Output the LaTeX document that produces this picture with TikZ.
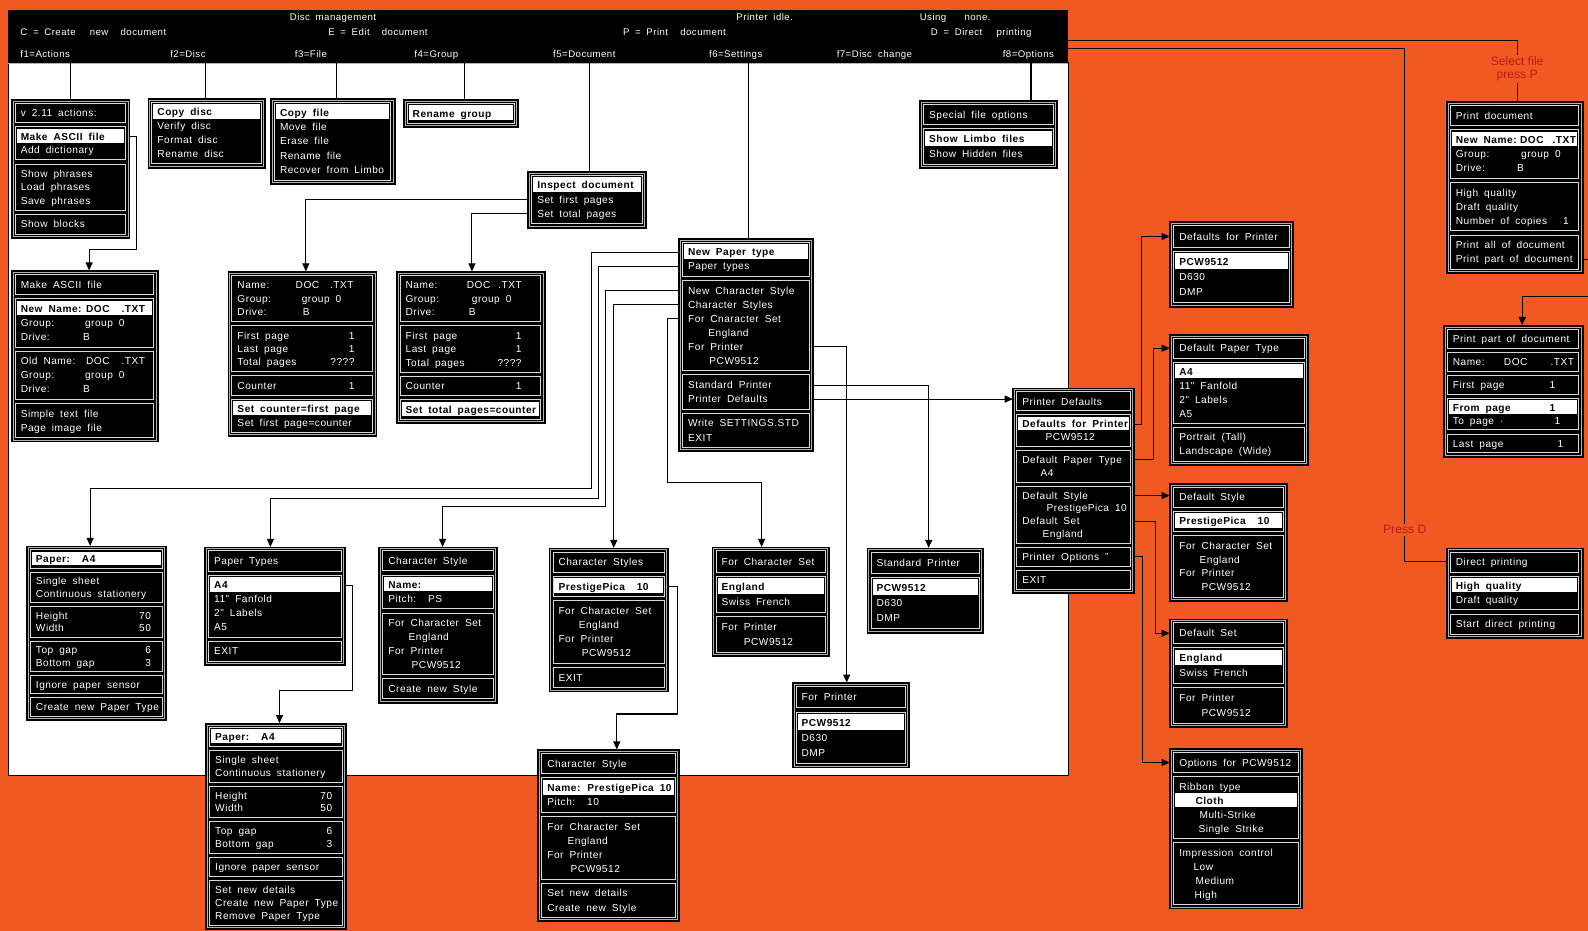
\documentclass[tikz,border=0pt]{standalone}
\usepackage{fontspec}
\setmainfont{Liberation Sans}
\newfontfamily\mfont{Liberation Sans}[LetterSpace=5,WordSpace=1.8]
\usetikzlibrary{arrows.meta}
\pgfdeclarelayer{panel}
\pgfdeclarelayer{lines}
\pgfdeclarelayer{frames}
\pgfsetlayers{panel,lines,frames,main}
\definecolor{bgorange}{RGB}{240,90,34}
\definecolor{lblred}{RGB}{185,30,25}
\definecolor{secgray}{gray}{0.85}

\newcounter{rowc}
\newif\ifhl
\def\RH{13.4}
\newcommand\mbegin[5][13.4]{%
  \gdef\RH{#1}\gdef\mname{#2}\gdef\mx{#3}\gdef\mtop{#4}\gdef\mw{#5}%
  \pgfmathsetmacro\tmp{#4+4}\xdef\cy{\tmp}%
  \setcounter{rowc}{0}}
\newcommand\msec[1]{%
  \pgfmathsetmacro\ya{\cy}%
  \pgfmathsetmacro\yb{\cy+6+\RH*#1}%
  \pgfmathsetmacro\xa{\mx+4}%
  \pgfmathsetmacro\xb{\mx+\mw-4}%
  \filldraw[sec] (\xa,\ya) rectangle (\xb,\yb);
  \pgfmathsetmacro\tmp{\cy+3}\xdef\ry{\tmp}%
  \pgfmathsetmacro\tmp{\yb+4}\xdef\cy{\tmp}}
\newcommand\mrow[2][0]{%
  \global\hlfalse\stepcounter{rowc}%
  \pgfmathsetmacro\tmp{\ry+\RH/2}\xdef\rc{\tmp}%
  \node[rowtxt] (\mname r\arabic{rowc}) at ({\mx+9.5+#1},\rc) {#2};
  \pgfmathsetmacro\tmp{\ry+\RH}\xdef\ry{\tmp}}
\newcommand\mrowh[2][0]{%
  \global\hltrue\stepcounter{rowc}%
  \pgfmathsetmacro\tmp{\ry+\RH/2}\xdef\rc{\tmp}%
  \fill[white] ({\mx+5.5},{\ry-1}) rectangle ({\mx+\mw-5.5},{\ry+\RH-0.5});
  \node[rowtxt,hl] (\mname r\arabic{rowc}) at ({\mx+9.5+#1},\rc) {#2};
  \pgfmathsetmacro\tmp{\ry+\RH}\xdef\ry{\tmp}}
\newcommand\mcol[2]{%
  \ifhl\node[rowtxt,hl] (\mname r\arabic{rowc}c#1) at ({\mx+#1},\rc) {#2};%
  \else\node[rowtxt] (\mname r\arabic{rowc}c#1) at ({\mx+#1},\rc) {#2};\fi}
\newcommand\mval[2]{%
  \ifhl\node[rowtxt,hl,anchor=east] (\mname r\arabic{rowc}v) at ({\mx+\mw-#1},\rc) {#2};%
  \else\node[rowtxt,anchor=east] (\mname r\arabic{rowc}v) at ({\mx+\mw-#1},\rc) {#2};\fi}
\newcommand\mend{%
  \pgfmathsetmacro\hh{\cy-\mtop}%
  \begin{pgfonlayer}{frames}
  \node[frame,minimum width=\mw pt,minimum height=\hh pt] (\mname) at (\mx,\mtop) {};
  \draw[innerframe] ({\mx+1.8},{\mtop+1.8}) rectangle ({\mx+\mw-1.8},{\cy-1.8});
  \end{pgfonlayer}}

\tikzset{
  rowtxt/.style={anchor=west, inner sep=0pt, outer sep=0pt, text=white,
    font=\mfont\fontsize{10}{12}\selectfont, text height=7.2pt, text depth=0pt},
  hl/.style={text=black, font=\mfont\bfseries\fontsize{10}{12}\selectfont},
  sec/.style={fill=black, draw=secgray, line width=0.9pt},
  frame/.style={anchor=north west, fill=black, draw=black, line width=0.6pt,
    inner sep=0pt, outer sep=0pt},
  innerframe/.style={draw=white!70!black, line width=0.6pt},
  conn/.style={draw=black, line width=1pt},
  arr/.style={conn, -{Triangle[length=8pt,width=7pt]}},
  bartxt/.style={anchor=west, inner sep=0pt, text=white,
    font=\mfont\fontsize{9.5}{11}\selectfont, text height=7pt, text depth=0pt},
  lbl/.style={text=lblred, font=\fontsize{12}{13.5}\selectfont, align=center, inner sep=1.5pt},
}

\begin{document}
\begin{tikzpicture}[x=1pt,y=-1pt]
\useasboundingbox (0,0) rectangle (1568,919);
\begin{pgfonlayer}{panel}
  \fill[bgorange] (0,0) rectangle (1568,919);
  \filldraw[fill=white,draw=black,line width=0.8pt] (8,62) rectangle (1055,766);
  \node[fill=black,minimum width=1047pt,minimum height=52pt,anchor=north west,inner sep=0pt,outer sep=0pt] (bar) at (8,10) {};
  \draw[white!70!black,line width=1pt] (8,63) -- (1055,63);
\end{pgfonlayer}

% top bar texts
\node[bartxt] (tb1) at (286,17) {Disc management};
\node[bartxt] (tb2) at (727,17) {Printer idle.};
\node[bartxt] (tb3) at (908,17) {Using\hspace{18pt}none.};
\node[bartxt] (tb4) at (20,32) {C = Create\hspace{14pt}new\hspace{12pt}document};
\node[bartxt] (tb5) at (324,32) {E = Edit\hspace{12pt}document};
\node[bartxt] (tb6) at (615,32) {P = Print\hspace{12pt}document};
\node[bartxt] (tb7) at (919,32) {D = Direct\hspace{14pt}printing};
\node[bartxt] (fk1t) at (20,53) {f1=Actions};
\node[bartxt] (fk2t) at (168,53) {f2=Disc};
\node[bartxt] (fk3t) at (291,53) {f3=File};
\node[bartxt] (fk4t) at (409,53) {f4=Group};
\node[bartxt] (fk5t) at (546,53) {f5=Document};
\node[bartxt] (fk6t) at (700,53) {f6=Settings};
\node[bartxt] (fk7t) at (826,53) {f7=Disc\hspace{6pt}change};
\node[bartxt] (fk8t) at (990,53) {f8=Options};

% ---------------- menus ----------------
\mbegin[13.3]{m1}{11}{98}{117}
\msec{1}\mrow{v 2.11 actions:}
\msec{2}\mrowh{Make ASCII file}\mrow{Add dictionary}
\msec{3}\mrow{Show phrases}\mrow{Load phrases}\mrow{Save phrases}
\msec{1}\mrow{Show blocks}
\mend

\mbegin[13.7]{m3}{146}{97}{116}
\msec{4}\mrowh{Copy disc}\mrow{Verify disc}\mrow{Format disc}\mrow{Rename disc}
\mend

\mbegin[14.2]{m4}{267}{97}{123}
\msec{5}\mrowh{Copy file}\mrow{Move file}\mrow{Erase file}\mrow{Rename file}\mrow{Recover from Limbo}
\mend

\mbegin[14]{m5}{398}{98}{114}
\msec{1}\mrowh{Rename group}
\mend

\mbegin[14]{m6}{521}{169}{117}
\msec{3}\mrowh{Inspect document}\mrow{Set first pages}\mrow{Set total pages}
\mend

\mbegin[14.3]{m21}{908}{99}{136}
\msec{1}\mrow{Special file options}
\msec{2}\mrowh{Show Limbo files}\mrow{Show Hidden files}
\mend

\mbegin[13.9]{m2}{11}{267}{145}
\msec{1}\mrow{Make ASCII file}
\msec{3}\mrowh{New Name:}\mcol{74}{DOC}\mcol{109}{.TXT}\mrow{Group:}\mcol{73}{group 0}\mrow{Drive:}\mcol{71}{B}
\msec{3}\mrow{Old Name:}\mcol{74}{DOC}\mcol{109}{.TXT}\mrow{Group:}\mcol{73}{group 0}\mrow{Drive:}\mcol{71}{B}
\msec{2}\mrow{Simple text file}\mrow{Page image file}
\mend

\mbegin[13.2]{m7}{225}{268}{147}
\msec{3}\mrow{Name:}\mcol{67}{DOC}\mcol{101}{.TXT}\mrow{Group:}\mcol{73}{group 0}\mrow{Drive:}\mcol{74}{B}
\msec{3}\mrow{First page}\mval{22}{1}\mrow{Last page}\mval{22}{1}\mrow{Total pages}\mval{22}{????}
\msec{1}\mrow{Counter}\mval{22}{1}
\msec{2}\mrowh{Set counter=first page}\mrow{Set first page=counter}
\mend

\mbegin[13.25]{m8}{391}{268}{147}
\msec{3}\mrow{Name:}\mcol{70}{DOC}\mcol{101}{.TXT}\mrow{Group:}\mcol{75}{group 0}\mrow{Drive:}\mcol{72}{B}
\msec{3}\mrow{First page}\mval{23}{1}\mrow{Last page}\mval{23}{1}\mrow{Total pages}\mval{23}{????}
\msec{1}\mrow{Counter}\mval{23}{1}
\msec{1}\mrowh{Set total pages=counter}
\mend

\mbegin[13.9]{m9}{670}{235}{133}
\msec{2}\mrowh{New Paper type}\mrow{Paper types}
\msec{6}\mrow{New Character Style}\mrow{Character Styles}\mrow{For Cnaracter Set}\mrow[20]{England}\mrow{For Printer}\mrow[21]{PCW9512}
\msec{2}\mrow{Standard Printer}\mrow{Printer Defaults}
\msec{2}\mrow{Write SETTINGS.STD}\mrow{EXIT}
\mend

\mbegin[12]{m10}{26}{539}{138}
\msec{1}\mrowh{Paper:\ \ A4}
\msec{2}\mrow{Single sheet}\mrow{Continuous stationery}
\msec{2}\mrow{Height}\mval{15}{70}\mrow{Width}\mval{15}{50}
\msec{2}\mrow{Top gap}\mval{15}{6}\mrow{Bottom gap}\mval{15}{3}
\msec{1}\mrow{Ignore paper sensor}
\msec{1}\mrow{Create new Paper Type}
\mend

\mbegin[13.8]{m11}{202}{540}{139}
\msec{1}\mrow{Paper Types}
\msec{4}\mrowh{A4}\mrow{11" Fanfold}\mrow{2" Labels}\mrow{A5}
\msec{1}\mrow{EXIT}
\mend

\mbegin[13.75]{m12}{374}{540}{117}
\msec{1}\mrow{Character Style}
\msec{2}\mrowh{Name:}\mrow{Pitch:\ \ PS}
\msec{4}\mrow{For Character Set}\mrow[20]{England}\mrow{For Printer}\mrow[23]{PCW9512}
\msec{1}\mrow{Create new Style}
\mend

\mbegin[14]{m13}{542}{541}{118}
\msec{1}\mrow{Character Styles}
\msec{1}\mrowh{PrestigePica\ \ 10}
\msec{4}\mrow{For Character Set}\mrow[20]{England}\mrow{For Printer}\mrow[23]{PCW9512}
\msec{1}\mrow{EXIT}
\mend

\mbegin[14.8]{m14}{703}{540}{116}
\msec{1}\mrow{For Character Set}
\msec{2}\mrowh{England}\mrow{Swiss French}
\msec{2}\mrow{For Printer}\mrow[22]{PCW9512}
\mend

\mbegin[15]{m16}{856}{541}{115}
\msec{1}\mrow{Standard Printer}
\msec{3}\mrowh{PCW9512}\mrow{D630}\mrow{DMP}
\mend

\mbegin[15]{m17}{782}{674}{116}
\msec{1}\mrow{For Printer}
\msec{3}\mrowh{PCW9512}\mrow{D630}\mrow{DMP}
\mend

\mbegin[12.7]{m19}{203}{714}{139}
\msec{1}\mrowh{Paper:\ \ A4}
\msec{2}\mrow{Single sheet}\mrow{Continuous stationery}
\msec{2}\mrow{Height}\mval{14}{70}\mrow{Width}\mval{14}{50}
\msec{2}\mrow{Top gap}\mval{14}{6}\mrow{Bottom gap}\mval{14}{3}
\msec{1}\mrow{Ignore paper sensor}
\msec{3}\mrow{Set new details}\mrow{Create new Paper Type}\mrow{Remove Paper Type}
\mend

\mbegin[14]{m20}{531}{740}{140}
\msec{1}\mrow{Character Style}
\msec{2}\mrowh{Name: PrestigePica 10}\mrow{Pitch:\ \ 10}
\msec{4}\mrow{For Character Set}\mrow[20]{England}\mrow{For Printer}\mrow[23]{PCW9512}
\msec{2}\mrow{Set new details}\mrow{Create new Style}
\mend

\mbegin[12.6]{m18}{1000}{383}{120}
\msec{1}\mrow{Printer Defaults}
\msec{2}\mrowh{Defaults for Printer}\mrow[23]{PCW9512}
\msec{2}\mrow{Default Paper Type}\mrow[18]{A4}
\msec{4}\mrow{Default Style}\mrow[24]{PrestigePica 10}\mrow{Default Set}\mrow[20]{England}
\msec{1}\mrow{Printer Options ”}
\msec{1}\mrow{EXIT}
\mend

\mbegin[15]{m22}{1155}{219}{122}
\msec{1}\mrow{Defaults for Printer}
\msec{3}\mrowh{PCW9512}\mrow{D630}\mrow{DMP}
\mend

\mbegin[13.6]{m23}{1155}{330}{137}
\msec{1}\mrow{Default Paper Type}
\msec{4}\mrowh{A4}\mrow{11" Fanfold}\mrow{2" Labels}\mrow{A5}
\msec{2}\mrow{Portrait (Tall)}\mrow{Landscape (Wide)}
\mend

\mbegin[13.8]{m24}{1155}{477}{116}
\msec{1}\mrow{Default Style}
\msec{1}\mrowh{PrestigePica\ \ 10}
\msec{4}\mrow{For Character Set}\mrow[20]{England}\mrow{For Printer}\mrow[22]{PCW9512}
\mend

\mbegin[14.6]{m25}{1155}{611}{116}
\msec{1}\mrow{Default Set}
\msec{2}\mrowh{England}\mrow{Swiss French}
\msec{2}\mrow{For Printer}\mrow[22]{PCW9512}
\mend

\mbegin[13.8]{m26}{1155}{739}{131}
\msec{1}\mrow{Options for PCW9512}
\msec{4}\mrow{Ribbon type}\mrowh[16]{Cloth}\mrow[20]{Multi-Strike}\mrow[19]{Single Strike}
\msec{4}\mrow{Impression control}\mrow[14]{Low}\mrow[16]{Medium}\mrow[15]{High}
\mend

\mbegin[14]{m27}{1428}{100}{135}
\msec{1}\mrow{Print document}
\msec{3}\mrowh{New Name:}\mcol{73}{DOC}\mcol{105}{.TXT}\mrow{Group:}\mcol{74}{group 0}\mrow{Drive:}\mcol{70}{B}
\msec{3}\mrow{High quality}\mrow{Draft quality}\mrow{Number of copies}\mval{14}{1}
\msec{2}\mrow{Print all of document}\mrow{Print part of document}
\mend

\mbegin[12.7]{m29}{1425}{321}{138}
\msec{1}\mrow{Print part of document}
\msec{1}\mrow{Name:}\mcol{60}{DOC}\mcol{106}{.TXT}
\msec{1}\mrow{First page}\mcol{105}{1}
\msec{2}\mrowh{From page}\mcol{105}{1}\mrow{To page ·}\mcol{110}{1}
\msec{1}\mrow{Last page}\mcol{113}{1}
\mend

\mbegin[13.75]{m28}{1428}{541}{135}
\msec{1}\mrow{Direct printing}
\msec{2}\mrowh{High quality}\mrow{Draft quality}
\msec{1}\mrow{Start direct printing}
\mend

% labels
\node[lbl] (lblP) at (1498,68) {Select file\\press P};
\node[lbl] (lblD) at (1387,523) {Press D};

% ---------------- connectors ----------------
\begin{pgfonlayer}{lines}
\foreach \xx/\mm in {70/m1,203/m3,332/m4,459/m5,582/m6,739/m9,1018/m21}{
  \coordinate (fk) at (\xx,0);
  \draw[conn] (bar.south -| fk) -- (fk |- \mm.north);
}
% actions -> make ascii
\coordinate (k1) at (135,246); \coordinate (k2) at (88,246);
\draw[arr] (m1.east |- m1r2) -| (k1) -- (k2) -- (k2 |- m2.north);
% inspect document
\coordinate (k3) at (302,0); \coordinate (k4) at (466,0);
\draw[arr] (m6.west |- m6r2) -| (k3 |- m7.north);
\draw[arr] (m6.west |- m6r3) -| (k4 |- m8.north);
% settings menu, left side
\coordinate (a1) at (584,482); \coordinate (b1) at (89,0);
\draw[arr] (m9.west |- m9r1) -| (a1) -| (b1 |- m10.north);
\coordinate (a2) at (591,492); \coordinate (b2) at (267,0);
\draw[arr] (m9.west |- m9r2) -| (a2) -| (b2 |- m11.north);
\coordinate (a3) at (598,500); \coordinate (b3) at (437,0);
\draw[arr] (m9.west |- m9r3) -| (a3) -| (b3 |- m12.north);
\coordinate (b4) at (606,0);
\draw[arr] (m9.west |- m9r4) -| (b4 |- m13.north);
\coordinate (a5) at (659,476); \coordinate (b5) at (752,0);
\draw[arr] (m9.west |- m9r5) -| (a5) -| (b5 |- m14.north);
% settings menu, right side
\coordinate (b6) at (836,0);
\draw[arr] (m9.east |- m9r7) -| (b6 |- m17.north);
\coordinate (b7) at (917,0);
\draw[arr] (m9.east |- m9r9) -| (b7 |- m16.north);
\draw[arr] (m9.east |- m9r10) -- (m18.west |- m9r10);
% paper types -> paper
\coordinate (a8) at (348,682); \coordinate (b8) at (276,0);
\draw[arr] (m11.east |- m11r2) -| (a8) -| (b8 |- m19.north);
% character styles -> character style
\coordinate (a9) at (669,705); \coordinate (b9) at (609,0);
\draw[arr] (m13.east |- m13r2) -| (a9) -| (b9 |- m20.north);
% printer defaults
\coordinate (c1) at (1127,0);
\draw[arr] (m18.east |- m18r2) -| (c1 |- m22r1) -- (m22.west |- m22r1);
\coordinate (c2) at (1139,0);
\draw[arr] (m18.east |- m18r4) -| (c2 |- m23r1) -- (m23.west |- m23r1);
\draw[arr] (m18.east |- m18r6) -- (m24.west |- m18r6);
\coordinate (c3) at (1141,0);
\draw[arr] (m18.east |- m18r8) -| (c3 |- m25r1) -- (m25.west |- m25r1);
\coordinate (c4) at (1128,0);
\draw[arr] (m18.east |- m18r10) -| (c4 |- m26r1) -- (m26.west |- m26r1);
% print document / direct printing
\coordinate (yP) at (0,40); \coordinate (yD) at (0,48);
\draw[conn] (bar.east |- yP) -| (lblP.north);
\draw[conn] (lblP.south) -- (lblP.south |- m27.north);
\draw[conn] (bar.east |- yD) -| (lblD.north);
\draw[conn] (lblD.south) |- (m28.west |- m28r1);
\coordinate (d1) at (1590,293); \coordinate (d2) at (1503,293);
\draw[arr] (m27.east |- m27r9) -| (d1) -- (d2) -- (d2 |- m29.north);
\end{pgfonlayer}
\end{tikzpicture}
\end{document}
